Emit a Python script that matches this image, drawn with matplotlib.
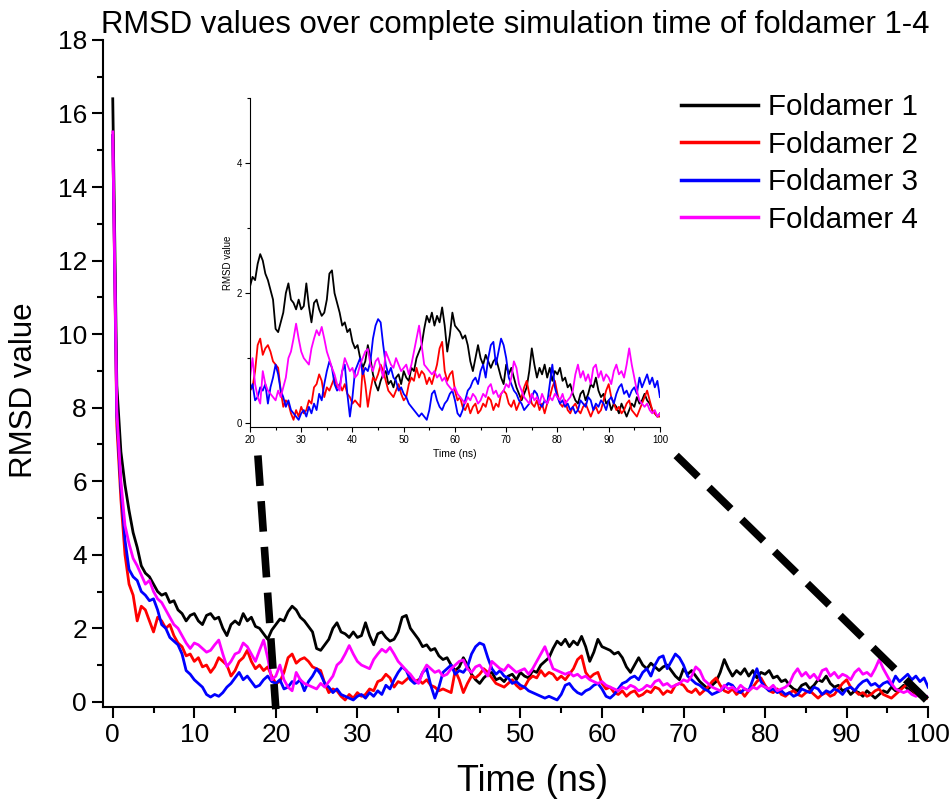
import numpy as np
import matplotlib
matplotlib.use("Agg")
import matplotlib.pyplot as plt
from matplotlib.ticker import MultipleLocator

plt.rcParams['font.family'] = ['Liberation Sans', 'DejaVu Sans']

# time axis, 0.5 ns sampling
time_ns = np.arange(0, 100.5, 0.5)

foldamer1 = [
    16.4, 8.6, 6.8, 5.9, 5.2, 4.6, 4.2, 3.7, 3.5, 3.4, 3.2, 3.0, 2.9, 2.95, 2.7, 2.75, 2.5, 2.4, 2.2, 2.35,
    2.4, 2.2, 2.1, 2.35, 2.4, 2.25, 2.3, 2.0, 1.8, 2.1, 2.2, 2.1, 2.4, 2.2, 2.3, 2.05, 2.0, 1.85, 1.7, 1.95,
    2.1, 2.25, 2.2, 2.45, 2.6, 2.5, 2.3, 2.2, 2.05, 1.9, 1.45, 1.4, 1.55, 1.7, 2.0, 2.15, 1.9, 1.85, 1.75, 1.9,
    1.75, 1.8, 2.15, 1.8, 1.55, 1.85, 1.9, 1.75, 1.65, 1.7, 1.9, 2.3, 2.35, 2.0, 1.85, 1.7, 1.5, 1.55, 1.4, 1.45,
    1.25, 1.15, 1.2, 1.0, 0.85, 0.95, 1.2, 1.0, 0.75, 0.6, 0.5, 0.65, 0.75, 0.8, 0.6, 0.65, 0.55, 0.7, 0.75, 0.6,
    0.8, 0.7, 0.65, 0.85, 0.8, 1.0, 1.1, 1.2, 1.45, 1.65, 1.55, 1.7, 1.5, 1.65, 1.55, 1.78, 1.5, 1.1, 1.35, 1.7,
    1.5, 1.45, 1.4, 1.3, 1.35, 1.2, 0.95, 0.8, 1.0, 1.2, 1.0, 0.9, 1.05, 0.95, 0.85, 0.95, 1.0, 0.85, 0.7, 0.6,
    0.9, 0.75, 0.85, 0.7, 0.55, 0.45, 0.35, 0.45, 0.55, 0.8, 1.15, 0.9, 0.7, 0.85, 0.75, 0.9, 0.7, 0.85, 0.65, 0.8,
    0.75, 0.85, 0.65, 0.7, 0.55, 0.6, 0.45, 0.35, 0.3, 0.45, 0.5, 0.35, 0.45, 0.6, 0.55, 0.7, 0.5, 0.4, 0.45, 0.3,
    0.35, 0.2, 0.3, 0.25, 0.15, 0.3, 0.2, 0.1, 0.2, 0.3, 0.25, 0.4, 0.3, 0.35, 0.45, 0.35, 0.3, 0.2, 0.15, 0.1, 0.15,
]

foldamer2 = [
    15.4, 7.5, 5.5, 4.0, 3.2, 2.9, 2.2, 2.6, 2.5, 2.2, 1.9, 2.3, 2.2, 2.0, 2.1, 1.8, 1.6, 1.5, 1.25, 1.3,
    1.1, 1.2, 0.95, 1.0, 0.8, 0.95, 1.2, 1.1, 1.0, 0.7, 0.85, 1.1, 1.2, 1.4, 1.1, 0.9, 1.0, 0.85, 0.95, 0.7,
    0.5, 0.55, 0.8, 1.2, 1.3, 1.05, 1.15, 1.2, 1.1, 0.95, 0.9, 0.85, 0.5, 0.25, 0.35, 0.3, 0.15, 0.05, 0.2, 0.1,
    0.25, 0.15, 0.2, 0.35, 0.3, 0.55, 0.6, 0.75, 0.65, 0.4, 0.55, 0.5, 0.6, 0.7, 0.55, 0.6, 0.5, 0.6, 0.45, 0.4,
    0.3, 0.35, 0.3, 0.25, 0.85, 0.6, 0.25, 0.5, 0.7, 0.65, 0.75, 0.9, 0.8, 0.65, 0.5, 0.45, 0.4, 0.5, 0.6, 0.45,
    0.35, 0.4, 0.6, 0.7, 0.65, 0.85, 0.7, 0.8, 0.75, 0.6, 0.7, 0.6, 0.75, 0.9, 1.15, 1.25, 0.8, 0.65, 0.75, 0.8,
    0.5, 0.35, 0.4, 0.25, 0.2, 0.3, 0.15, 0.25, 0.3, 0.15, 0.2, 0.3, 0.25, 0.4, 0.35, 0.2, 0.3, 0.25, 0.45, 0.5,
    0.45, 0.3, 0.25, 0.35, 0.2, 0.3, 0.4, 0.55, 0.65, 0.45, 0.3, 0.25, 0.35, 0.2, 0.3, 0.15, 0.3, 0.4, 0.55, 0.65,
    0.45, 0.3, 0.25, 0.35, 0.2, 0.15, 0.25, 0.3, 0.2, 0.15, 0.25, 0.3, 0.2, 0.1, 0.2, 0.25, 0.15, 0.2, 0.35, 0.5,
    0.6, 0.4, 0.3, 0.2, 0.25, 0.15, 0.2, 0.3, 0.35, 0.2, 0.15, 0.1, 0.2, 0.3, 0.4, 0.5, 0.35, 0.2, 0.15, 0.1, 0.1,
]

foldamer3 = [
    15.4, 7.8, 5.8, 4.4, 3.6, 3.4, 3.3, 3.0, 2.9, 2.75, 2.8, 2.5, 2.1, 2.0, 1.75, 1.65, 1.55, 1.3, 0.85, 0.75,
    0.6, 0.5, 0.4, 0.2, 0.13, 0.2, 0.15, 0.25, 0.4, 0.5, 0.65, 0.8, 0.6, 0.7, 0.55, 0.4, 0.45, 0.6, 0.7, 0.55,
    0.5, 0.6, 0.35, 0.4, 0.55, 0.5, 0.6, 0.3, 0.55, 0.7, 0.9, 0.75, 0.5, 0.4, 0.25, 0.35, 0.2, 0.15, 0.1, 0.05,
    0.15, 0.2, 0.1, 0.25, 0.15, 0.3, 0.2, 0.45, 0.35, 0.6, 0.8, 0.95, 0.85, 0.6, 0.5, 0.55, 0.8, 0.9, 0.45, 0.1,
    0.4, 0.8, 0.9, 1.0, 0.75, 0.85, 0.8, 0.95, 1.3, 1.5, 1.6, 1.55, 1.2, 0.9, 0.75, 0.85, 0.7, 0.65, 0.5, 0.55,
    0.45, 0.4, 0.3, 0.25, 0.2, 0.15, 0.1, 0.15, 0.1, 0.05, 0.2, 0.45, 0.5, 0.35, 0.25, 0.2, 0.3, 0.35, 0.45, 0.5,
    0.35, 0.15, 0.1, 0.2, 0.35, 0.5, 0.55, 0.65, 0.7, 0.6, 0.8, 0.9, 0.7, 1.0, 1.2, 1.25, 0.9, 1.1, 1.3, 1.2,
    1.0, 0.7, 0.6, 0.5, 0.45, 0.35, 0.3, 0.2, 0.25, 0.3, 0.4, 0.5, 0.45, 0.3, 0.25, 0.35, 0.3, 0.6, 0.9, 0.55,
    0.4, 0.3, 0.35, 0.25, 0.3, 0.2, 0.25, 0.15, 0.2, 0.35, 0.3, 0.25, 0.4, 0.35, 0.2, 0.3, 0.25, 0.35, 0.3, 0.2,
    0.35, 0.4, 0.3, 0.45, 0.55, 0.6, 0.45, 0.5, 0.4, 0.5, 0.55, 0.45, 0.7, 0.55, 0.65, 0.75, 0.6, 0.7, 0.55, 0.65, 0.4,
]

foldamer4 = [
    15.5, 7.9, 6.0, 4.8, 4.3, 3.9, 3.7, 3.45, 3.2, 3.3, 3.0, 2.8, 2.7, 2.5, 2.3, 2.1, 2.0, 1.8, 1.6, 1.45,
    1.6, 1.55, 1.45, 1.35, 1.4, 1.55, 1.68, 1.3, 0.96, 1.1, 1.3, 1.35, 1.6, 1.5, 1.3, 1.1, 1.4, 1.68, 1.2, 0.6,
    0.7, 1.0, 0.6, 0.4, 0.3, 0.8, 0.6, 0.5, 0.45, 0.4, 0.35, 0.5, 0.4, 0.55, 0.7, 1.0, 1.1, 1.3, 1.53, 1.3,
    1.1, 1.0, 0.95, 0.9, 1.15, 1.3, 1.43, 1.35, 1.48, 1.3, 1.1, 0.98, 0.85, 0.75, 0.6, 0.5, 0.8, 1.0, 0.9, 0.8,
    0.85, 0.7, 0.75, 0.9, 1.0, 1.1, 1.14, 0.9, 0.8, 0.95, 1.0, 0.85, 0.7, 1.1, 1.0, 0.9, 0.85, 1.0, 0.9, 0.8,
    0.85, 0.9, 0.75, 0.9, 1.1, 1.3, 1.5, 1.2, 0.9, 0.85, 0.8, 0.75, 0.8, 0.7, 0.75, 0.65, 0.7, 0.6, 0.55, 0.5,
    0.55, 0.45, 0.4, 0.35, 0.3, 0.4, 0.35, 0.45, 0.4, 0.3, 0.35, 0.45, 0.4, 0.55, 0.6, 0.45, 0.5, 0.4, 0.45, 0.5,
    0.6, 0.55, 0.7, 0.95, 0.85, 0.6, 0.5, 0.4, 0.35, 0.3, 0.45, 0.35, 0.4, 0.3, 0.45, 0.35, 0.3, 0.4, 0.35, 0.45,
    0.4, 0.35, 0.45, 0.3, 0.35, 0.4, 0.5, 0.75, 0.9, 0.7, 0.8, 0.65, 0.75, 0.6, 0.85, 0.9, 0.7, 0.8, 0.65, 0.75,
    0.7, 0.6, 0.8, 0.9, 0.75, 0.8, 0.7, 0.9, 1.15, 0.9, 0.7, 0.5, 0.35, 0.3, 0.25, 0.3, 0.2, 0.15, 0.2, 0.1, 0.15,
]

series = [foldamer1, foldamer2, foldamer3, foldamer4]
labels = ["Foldamer 1", "Foldamer 2", "Foldamer 3", "Foldamer 4"]
colors = ["#000000", "#ff0000", "#0000ff", "#ff00ff"]

for s in series:
    assert len(s) == len(time_ns), len(s)

fig = plt.figure(figsize=(9.49, 8.02), dpi=100)
ax = fig.add_axes([0.1085, 0.1185, 0.8695, 0.8317])

for s, lab, c in zip(series, labels, colors):
    ax.plot(time_ns, s, color=c, lw=2.0, label=lab)

ax.set_xlim(-1.2, 100)
ax.set_ylim(-0.14, 18)
ax.xaxis.set_major_locator(MultipleLocator(10))
ax.xaxis.set_minor_locator(MultipleLocator(5))
ax.yaxis.set_major_locator(MultipleLocator(2))
ax.yaxis.set_minor_locator(MultipleLocator(1))
ax.spines['top'].set_visible(False)
ax.spines['right'].set_visible(False)
for sp in ('left', 'bottom'):
    ax.spines[sp].set_linewidth(1.5)
ax.tick_params(which='major', direction='out', length=8, width=1.5, labelsize=19)
ax.tick_params(which='minor', direction='out', length=4, width=1.5)
ax.set_xlabel("Time (ns)", fontsize=26)
ax.xaxis.set_label_coords(0.52, -0.085)
ax.set_ylabel("RMSD value", fontsize=22.5)
ax.yaxis.set_label_coords(-0.077, 0.475)
ax.set_title("RMSD values over complete simulation time of foldamer 1-4", fontsize=22.4, pad=0)

leg = ax.legend(loc='upper right', bbox_to_anchor=(1.02, 0.96), frameon=False, fontsize=21.3,
                handlelength=2.6, handletextpad=0.35, labelspacing=0.32)
for h in leg.get_lines():
    h.set_linewidth(2.5)

# zoom connectors
ax.plot([17.8, 20.0], [6.7, -0.2], color='black', lw=5.5, ls=(0, (4, 2)), clip_on=False, zorder=10)
ax.plot([69.1, 99.8], [6.7, 0.05], color='black', lw=5.5, ls=(0, (4, 2)), clip_on=False, zorder=10)

# inset
ins = fig.add_axes([0.2634, 0.4676, 0.432, 0.410])
for s, c in zip(series, colors):
    ins.plot(time_ns, s, color=c, lw=1.3)
ins.set_xlim(20, 100)
ins.set_ylim(-0.06, 5)
ins.xaxis.set_major_locator(MultipleLocator(10))
ins.xaxis.set_minor_locator(MultipleLocator(5))
ins.yaxis.set_major_locator(MultipleLocator(2))
ins.yaxis.set_minor_locator(MultipleLocator(1))
ins.spines['top'].set_visible(False)
ins.spines['right'].set_visible(False)
ins.tick_params(which='major', direction='out', length=3.5, width=0.8, labelsize=7, pad=2)
ins.tick_params(which='minor', direction='out', length=2, width=0.8)
ins.set_xlabel("Time (ns)", fontsize=7.5, labelpad=3)
ins.set_ylabel("RMSD value", fontsize=7, labelpad=3)

fig.savefig("out.png", dpi=100)
